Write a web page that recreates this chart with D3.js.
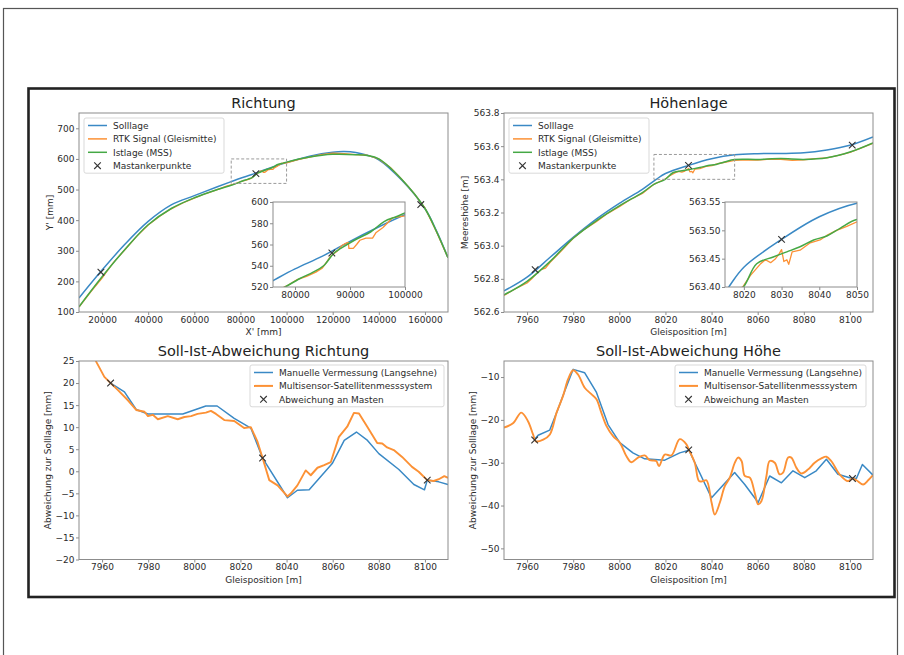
<!DOCTYPE html>
<html>
<head>
<meta charset="utf-8">
<script src="https://cdn.jsdelivr.net/npm/d3@7"></script>
<style>
  body { margin: 0; background: #fff; }
  svg { display: block; font-family: "DejaVu Sans", sans-serif; }
</style>
</head>
<body>
<svg id="chart" width="904" height="655"></svg>
<script>
// ---------- Richtung (X'/Y' in mm) ----------
const richtSollX = [10000, 20000, 30000, 40000, 50000, 60000, 70000, 76000, 80000, 85000, 90000, 95000, 100000, 110000, 120000, 125000, 130000, 135000, 140000, 150000, 160000, 165000, 170000]
const richtSollY = [146, 237, 322, 396, 450, 480, 509, 526, 537, 549, 563, 576, 588, 609, 622, 624, 621, 612, 597, 530, 438, 365, 277]

const richtRtkX = [10000, 15000, 20000, 22000, 25000, 30000, 35000, 40000, 45000, 50000, 55000, 60000, 65000, 70000, 74000, 76000, 78500, 80400, 82100, 83800, 85000, 86500, 87700, 88500, 89000, 89700, 89800, 90600, 91200, 91800, 92900, 94100, 94700, 96000, 97700, 100000, 105000, 110000, 115000, 120000, 125000, 130000, 135000, 140000, 145000, 150000, 155000, 160000, 165000, 170000]
const richtRtkY = [116, 165, 211, 232, 262, 304, 347, 384, 413, 437, 456, 472, 487, 500, 511, 515, 521, 527, 530, 534, 538, 549, 554, 559, 560.5, 562, 556.4, 556.4, 560, 564, 566, 566, 571, 576, 585, 587, 598, 606, 614, 619, 617, 614, 612, 600, 572, 533, 490, 440, 362, 277]

const richtIstX = [10000, 20000, 30000, 40000, 50000, 60000, 70000, 76000, 78200, 80900, 83300, 85200, 87100, 88400, 90800, 93800, 96200, 98500, 100000, 110000, 120000, 130000, 135000, 140000, 150000, 160000, 165000, 170000]
const richtIstY = [117, 215, 305, 385, 438, 473, 500, 514, 520, 528, 534, 540, 552, 556.5, 564, 572, 581.6, 586.3, 589.6, 606, 615, 614, 611, 600, 533, 438, 363, 277]

const richtMastX = [19500, 86700, 158200]
const richtMastY = [230, 552, 451]

// ---------- Höhenlage (Gleisposition m / Meereshöhe m) ----------
const hoeheSollPos = [7950, 7960, 7970, 7980, 7990, 8000, 8010, 8016, 8020, 8030, 8040, 8050, 8060, 8070, 8080, 8090, 8100, 8110]
const hoeheSollZ = [562.727, 562.81, 562.93, 563.05, 563.16, 563.255, 563.34, 563.40, 563.435, 563.484, 563.524, 563.548, 563.555, 563.556, 563.56, 563.577, 563.605, 563.655]

const hoeheRtkPos = [7950, 7955, 7960, 7962, 7964, 7966, 7968, 7970, 7975, 7980, 7985, 7990, 7995, 8000, 8005, 8010, 8015, 8019.9, 8021.7, 8024.3, 8025.7, 8027.1, 8028.4, 8029.3, 8030, 8030.6, 8031.4, 8031.9, 8032.8, 8034.9, 8037.6, 8040.2, 8042, 8044.6, 8047.3, 8050, 8055, 8060, 8065, 8070, 8075, 8080, 8085, 8090, 8095, 8100, 8105, 8110]
const hoeheRtkZ = [562.70, 562.74, 562.775, 562.80, 562.83, 562.855, 562.865, 562.90, 562.97, 563.045, 563.10, 563.145, 563.195, 563.235, 563.28, 563.315, 563.37, 563.402, 563.42, 563.44, 563.448, 563.443, 563.45, 563.458, 563.466, 563.445, 563.448, 563.44, 563.462, 563.465, 563.478, 563.483, 563.491, 563.50, 563.507, 563.515, 563.518, 563.516, 563.522, 563.52, 563.515, 563.518, 563.525, 563.53, 563.545, 563.562, 563.59, 563.618]

const hoeheIstPos = [7950, 7960, 7970, 7980, 7990, 8000, 8010, 8015, 8019.9, 8023.4, 8027.8, 8031.4, 8034.9, 8038.5, 8042, 8045.6, 8050, 8060, 8070, 8080, 8090, 8100, 8110]
const hoeheIstZ = [562.703, 562.785, 562.905, 563.045, 563.15, 563.24, 563.32, 563.37, 563.40, 563.441, 563.453, 563.462, 563.471, 563.483, 563.49, 563.504, 563.519, 563.52, 563.525, 563.52, 563.53, 563.565, 563.62]

const hoeheMastPos = [7963.5, 8030, 8101]
const hoeheMastZ = [562.855, 563.484, 563.606]

// ---------- Soll-Ist-Abweichung Richtung (mm) ----------
const devRManPos = [7963.7, 7969.7, 7974.8, 7979.9, 7995, 8005, 8009.9, 8017.3, 8024.5, 8029.6, 8040.4, 8044.7, 8049.8, 8059.8, 8065, 8070.3, 8075.1, 8080, 8088.7, 8095.2, 8099.8, 8101, 8106, 8110]
const devRManVal = [20.0, 18.0, 14.0, 13.0, 13.0, 14.8, 14.8, 12.0, 9.8, 3.0, -6.0, -4.3, -4.2, 1.75, 7.0, 8.9, 7.0, 4.0, 0.4, -3.0, -4.2, -2.0, -2.4, -3.0]

const devRMssPos = [7955, 7957.5, 7961, 7963.7, 7966.9, 7971.2, 7974.8, 7978.4, 7979.9, 7982, 7984.2, 7988.5, 7992.8, 7995.7, 7998.6, 8001.4, 8005, 8007.2, 8009.4, 8013, 8017.3, 8021.6, 8024.5, 8027.4, 8029.6, 8032.5, 8036.1, 8040.4, 8041.9, 8044.7, 8046.5, 8048.3, 8050.5, 8053.4, 8056.3, 8059.2, 8062.7, 8066.3, 8069.2, 8071.4, 8075, 8079.3, 8081.5, 8083.6, 8086.5, 8090.1, 8094.4, 8097.3, 8101, 8103.8, 8106, 8108.4, 8110]
const devRMssVal = [28.5, 24.8, 21.4, 20.0, 18.4, 16.1, 13.9, 13.5, 12.5, 12.8, 11.8, 12.5, 11.8, 12.3, 12.5, 13.0, 13.3, 13.7, 13.0, 11.6, 11.4, 9.8, 10.0, 6.7, 3.0, -2.0, -3.2, -5.7, -5.0, -3.2, -1.5, 0.2, -0.9, 0.8, 1.4, 2.1, 7.8, 10.1, 13.25, 13.1, 10.1, 6.4, 6.3, 5.4, 4.8, 3.25, 1.0, -0.1, -2.0, -2.2, -1.8, -1.1, -1.5]

const devRMastPos = [7963.7, 8029.6, 8101]
const devRMastVal = [20.0, 3.0, -2.0]

// ---------- Soll-Ist-Abweichung Höhe (mm) ----------
const devHManPos = [7963.3, 7964.8, 7969.8, 7973.4, 7976.3, 7980, 7985, 7990.1, 7995.1, 8000.2, 8005.9, 8011, 8019.7, 8026.2, 8030.2, 8040, 8050, 8054.4, 8060.2, 8065.2, 8070.3, 8075.3, 8080.4, 8085.4, 8089.8, 8094.8, 8099.9, 8102.8, 8105.4, 8110]
const devHManVal = [-24.5, -23.6, -22.4, -17.5, -13.3, -8.2, -9.0, -13.6, -21.1, -25.3, -27.7, -29.1, -29.4, -27.7, -27.1, -38.2, -32.3, -35.1, -39.3, -33.1, -34.7, -31.9, -33.5, -31.9, -29.2, -32.7, -33.5, -33.7, -30.4, -32.9]

const devHMssPos = [7950, 7953.9, 7957.5, 7960.4, 7962.6, 7963.8, 7967, 7969.9, 7972.8, 7975.6, 7977.8, 7980, 7982.1, 7985, 7987.9, 7990.1, 7992.2, 7994.4, 7997.3, 8000.2, 8003.1, 8005.2, 8008.1, 8011, 8013.2, 8016, 8017.2, 8019.7, 8022.6, 8026.2, 8029.1, 8030.1, 8032.7, 8034.6, 8036.3, 8037.8, 8040, 8041.4, 8043.6, 8045.7, 8047.9, 8050.1, 8051.5, 8053, 8054.4, 8056.6, 8058.7, 8060.2, 8061.6, 8063.8, 8065.2, 8067.4, 8069.5, 8071, 8073.2, 8074.6, 8076.8, 8078.9, 8081.8, 8084.7, 8087.6, 8089.8, 8091.9, 8095.5, 8099.2, 8101.1, 8102.8, 8105.7, 8107.9, 8110]
const devHMssVal = [-21.8, -20.8, -18.3, -20.3, -23.4, -25.0, -24.6, -23.4, -18.3, -14.4, -10.5, -8.4, -9.4, -12.5, -14.0, -15.2, -18.3, -21.4, -23.8, -25.3, -28.5, -29.9, -28.8, -28.3, -29.4, -29.6, -30.8, -28.1, -28.3, -24.5, -25.7, -26.9, -30.0, -34.3, -34.3, -34.1, -39.3, -42.1, -39.3, -35.5, -33.5, -30.0, -28.8, -29.6, -33.1, -33.5, -37.0, -39.7, -39.0, -33.1, -29.6, -30.0, -32.7, -32.3, -28.8, -28.8, -31.2, -32.5, -31.6, -30.0, -29.0, -28.6, -29.6, -32.7, -34.3, -33.7, -34.1, -35.1, -34.1, -32.9]

const devHMastPos = [7963.3, 8030.1, 8101.1]
const devHMastVal = [-24.7, -27.0, -33.7]

// tick labels
const richtXTicks = [20000, 40000, 60000, 80000, 100000, 120000, 140000, 160000]
const richtYTicks = [100, 200, 300, 400, 500, 600, 700]
const richtInsetXTicks = [80000, 90000, 100000]
const richtInsetYTicks = [520, 540, 560, 580, 600]
const gleisTicks = [7960, 7980, 8000, 8020, 8040, 8060, 8080, 8100]
const hoeheYTicks = [562.6, 562.8, 563.0, 563.2, 563.4, 563.6, 563.8]
const hoeheInsetXTicks = [8020, 8030, 8040, 8050]
const hoeheInsetYTicks = [563.40, 563.45, 563.50, 563.55]
const devRYTicks = [-20, -15, -10, -5, 0, 5, 10, 15, 20, 25]
const devHYTicks = [-50, -40, -30, -20, -10]

// ---------- styling ----------
const C_BLUE = "#3a89c5", C_ORANGE = "#fc9135", C_GREEN = "#45a845"
const SPINE = "#8c8c8c", TXT = "#2b2b2b"

const svg = d3.select("#chart")

// page frames
svg.append("rect").attr("x", 3.5).attr("y", 8.5).attr("width", 894).attr("height", 660)
    .attr("fill", "none").attr("stroke", "#555").attr("stroke-width", 1.2)
svg.append("rect").attr("x", 28.5).attr("y", 88.5).attr("width", 866).attr("height", 508.5)
    .attr("fill", "none").attr("stroke", "#222").attr("stroke-width", 2.6)

let clipId = 0
// build one set of axes with scales, ticks and a clip area
function makeAxes(o) {
    const g = svg.append("g")
    const x = d3.scaleLinear().domain(o.xDomain).range([o.left, o.right])
    const y = d3.scaleLinear().domain(o.yDomain).range([o.bottom, o.top])
    g.append("rect").attr("x", o.left).attr("y", o.top)
        .attr("width", o.right - o.left).attr("height", o.bottom - o.top).attr("fill", "#fff")
    const id = "clip" + (clipId++)
    g.append("clipPath").attr("id", id).append("rect")
        .attr("x", o.left).attr("y", o.top).attr("width", o.right - o.left).attr("height", o.bottom - o.top)
    const plot = g.append("g").attr("clip-path", `url(#${id})`)

    const xa = g.append("g").attr("transform", `translate(0,${o.bottom})`)
        .call(d3.axisBottom(x).tickValues(o.xTicks).tickFormat(o.xFmt).tickSize(3).tickPadding(1.5))
    const ya = g.append("g").attr("transform", `translate(${o.left},0)`)
        .call(d3.axisLeft(y).tickValues(o.yTicks).tickFormat(o.yFmt).tickSize(3).tickPadding(1.5))
    for (const a of [xa, ya]) {
        a.select(".domain").remove()
        a.attr("font-family", null).attr("font-size", 9)
        a.selectAll("line").attr("stroke", SPINE)
        a.selectAll("text").attr("fill", TXT)
    }
    g.append("rect").attr("x", o.left).attr("y", o.top)
        .attr("width", o.right - o.left).attr("height", o.bottom - o.top)
        .attr("fill", "none").attr("stroke", SPINE).attr("stroke-width", 1)

    if (o.title) g.append("text").attr("x", (o.left + o.right) / 2).attr("y", o.top - 5)
        .attr("text-anchor", "middle").attr("font-size", 14.5).attr("fill", "#222").text(o.title)
    if (o.xLabel) g.append("text").attr("x", (o.left + o.right) / 2).attr("y", o.bottom + 23)
        .attr("text-anchor", "middle").attr("font-size", 9).attr("fill", TXT).text(o.xLabel)
    if (o.yLabel) g.append("text")
        .attr("transform", `translate(${o.yLabelX},${(o.top + o.bottom) / 2}) rotate(-90)`)
        .attr("text-anchor", "middle").attr("dy", "0.35em").attr("font-size", 9).attr("fill", TXT).text(o.yLabel)
    return { g, plot, x, y }
}

// draw a line series from two arrays
function series(ax, xs, ys, color, width, curve) {
    const line = d3.line().x(d => ax.x(d[0])).y(d => ax.y(d[1])).curve(curve || d3.curveLinear)
    ax.plot.append("path").datum(d3.zip(xs, ys)).attr("d", line)
        .attr("fill", "none").attr("stroke", color).attr("stroke-width", width)
        .attr("stroke-linejoin", "round")
}

const crossPath = "M-3.3,-3.3L3.3,3.3M-3.3,3.3L3.3,-3.3"
function masts(ax, xs, ys) {
    ax.plot.selectAll(null).data(d3.zip(xs, ys)).join("path")
        .attr("d", crossPath).attr("transform", d => `translate(${ax.x(d[0])},${ax.y(d[1])})`)
        .attr("fill", "none").attr("stroke", "#333").attr("stroke-width", 1.1)
}

function legend(ax, x0, y0, w, items) {
    const rowH = 13.4
    const lg = ax.g.append("g")
    lg.append("rect").attr("x", x0).attr("y", y0).attr("width", w).attr("height", items.length * rowH + 1.6)
        .attr("rx", 2).attr("fill", "#fff").attr("fill-opacity", 0.85).attr("stroke", "#d9d9d9")
    items.forEach((it, i) => {
        const cy = y0 + 7.5 + i * rowH
        if (it.color) lg.append("line").attr("x1", x0 + 4).attr("x2", x0 + 23).attr("y1", cy).attr("y2", cy)
            .attr("stroke", it.color).attr("stroke-width", it.width)
        else lg.append("path").attr("d", crossPath).attr("transform", `translate(${x0 + 13.5},${cy})`)
            .attr("fill", "none").attr("stroke", "#333").attr("stroke-width", 1.1)
        lg.append("text").attr("x", x0 + 29).attr("y", cy + 3.3).attr("font-size", 9).attr("fill", TXT).text(it.label)
    })
}

function zoomBox(ax, xd, yd) {
    ax.g.append("rect").attr("x", ax.x(xd[0])).attr("y", ax.y(yd[1]))
        .attr("width", ax.x(xd[1]) - ax.x(xd[0])).attr("height", ax.y(yd[0]) - ax.y(yd[1]))
        .attr("fill", "none").attr("stroke", "#9a9a9a").attr("stroke-width", 1).attr("stroke-dasharray", "3,2")
}

const smooth = d3.curveCatmullRom.alpha(0.5)
const fmtInt = d3.format("d")

// ===== Richtung =====
const aR = makeAxes({ left: 79, right: 448, top: 113, bottom: 312, xDomain: [10000, 170000], yDomain: [100, 750],
    xTicks: richtXTicks, yTicks: richtYTicks, xFmt: fmtInt, yFmt: fmtInt,
    title: "Richtung", xLabel: "X' [mm]", yLabel: "Y' [mm]", yLabelX: 50 })
series(aR, richtSollX, richtSollY, C_BLUE, 1.5, smooth)
series(aR, richtRtkX, richtRtkY, C_ORANGE, 1.3)
series(aR, richtIstX, richtIstY, C_GREEN, 1.5, smooth)
masts(aR, richtMastX, richtMastY)
legend(aR, 84, 118, 140, [
    { label: "Solllage", color: C_BLUE, width: 1.5 },
    { label: "RTK Signal (Gleismitte)", color: C_ORANGE, width: 1.5 },
    { label: "Istlage (MSS)", color: C_GREEN, width: 1.5 },
    { label: "Mastankerpunkte" }])
zoomBox(aR, [76000, 100000], [520, 600])

const aRi = makeAxes({ left: 273, right: 405, top: 202, bottom: 287, xDomain: [76000, 100000], yDomain: [520, 600],
    xTicks: richtInsetXTicks, yTicks: richtInsetYTicks, xFmt: fmtInt, yFmt: fmtInt })
series(aRi, richtSollX, richtSollY, C_BLUE, 1.5, smooth)
series(aRi, richtRtkX, richtRtkY, C_ORANGE, 1.3)
series(aRi, richtIstX, richtIstY, C_GREEN, 1.5, smooth)
masts(aRi, richtMastX, richtMastY)

// ===== Höhenlage =====
const aH = makeAxes({ left: 504, right: 873, top: 113, bottom: 312, xDomain: [7950, 8110], yDomain: [562.6, 563.8],
    xTicks: gleisTicks, yTicks: hoeheYTicks, xFmt: fmtInt, yFmt: d3.format(".1f"),
    title: "Höhenlage", xLabel: "Gleisposition [m]", yLabel: "Meereshöhe [m]", yLabelX: 465 })
series(aH, hoeheSollPos, hoeheSollZ, C_BLUE, 1.5, smooth)
series(aH, hoeheRtkPos, hoeheRtkZ, C_ORANGE, 1.3)
series(aH, hoeheIstPos, hoeheIstZ, C_GREEN, 1.5, smooth)
masts(aH, hoeheMastPos, hoeheMastZ)
legend(aH, 509, 118, 140, [
    { label: "Solllage", color: C_BLUE, width: 1.5 },
    { label: "RTK Signal (Gleismitte)", color: C_ORANGE, width: 1.5 },
    { label: "Istlage (MSS)", color: C_GREEN, width: 1.5 },
    { label: "Mastankerpunkte" }])
zoomBox(aH, [8015, 8050], [563.40, 563.55])

const aHi = makeAxes({ left: 725, right: 857, top: 202, bottom: 287, xDomain: [8015, 8050], yDomain: [563.40, 563.55],
    xTicks: hoeheInsetXTicks, yTicks: hoeheInsetYTicks, xFmt: fmtInt, yFmt: d3.format(".2f") })
series(aHi, hoeheSollPos, hoeheSollZ, C_BLUE, 1.5, smooth)
series(aHi, hoeheRtkPos, hoeheRtkZ, C_ORANGE, 1.3)
series(aHi, hoeheIstPos, hoeheIstZ, C_GREEN, 1.5, smooth)
masts(aHi, hoeheMastPos, hoeheMastZ)

// ===== Soll-Ist-Abweichung Richtung =====
const aDR = makeAxes({ left: 79, right: 448, top: 361, bottom: 559.5, xDomain: [7950, 8110], yDomain: [-20, 25],
    xTicks: gleisTicks, yTicks: devRYTicks, xFmt: fmtInt, yFmt: fmtInt,
    title: "Soll-Ist-Abweichung Richtung", xLabel: "Gleisposition [m]", yLabel: "Abweichung zur Solllage [mm]", yLabelX: 48 })
series(aDR, devRManPos, devRManVal, C_BLUE, 1.5)
series(aDR, devRMssPos, devRMssVal, C_ORANGE, 1.9)
masts(aDR, devRMastPos, devRMastVal)
legend(aDR, 250, 365, 194, [
    { label: "Manuelle Vermessung (Langsehne)", color: C_BLUE, width: 1.5 },
    { label: "Multisensor-Satellitenmesssystem", color: C_ORANGE, width: 2 },
    { label: "Abweichung an Masten" }])

// ===== Soll-Ist-Abweichung Höhe =====
const aDH = makeAxes({ left: 504, right: 873, top: 361, bottom: 559.5, xDomain: [7950, 8110], yDomain: [-52.6, -6.25],
    xTicks: gleisTicks, yTicks: devHYTicks, xFmt: fmtInt, yFmt: fmtInt,
    title: "Soll-Ist-Abweichung Höhe", xLabel: "Gleisposition [m]", yLabel: "Abweichung zur Solllage [mm]", yLabelX: 473 })
series(aDH, devHManPos, devHManVal, C_BLUE, 1.5)
series(aDH, devHMssPos, devHMssVal, C_ORANGE, 1.9, smooth)
masts(aDH, devHMastPos, devHMastVal)
legend(aDH, 675, 365, 191, [
    { label: "Manuelle Vermessung (Langsehne)", color: C_BLUE, width: 1.5 },
    { label: "Multisensor-Satellitenmesssystem", color: C_ORANGE, width: 2 },
    { label: "Abweichung an Masten" }])
</script>
</body>
</html>
